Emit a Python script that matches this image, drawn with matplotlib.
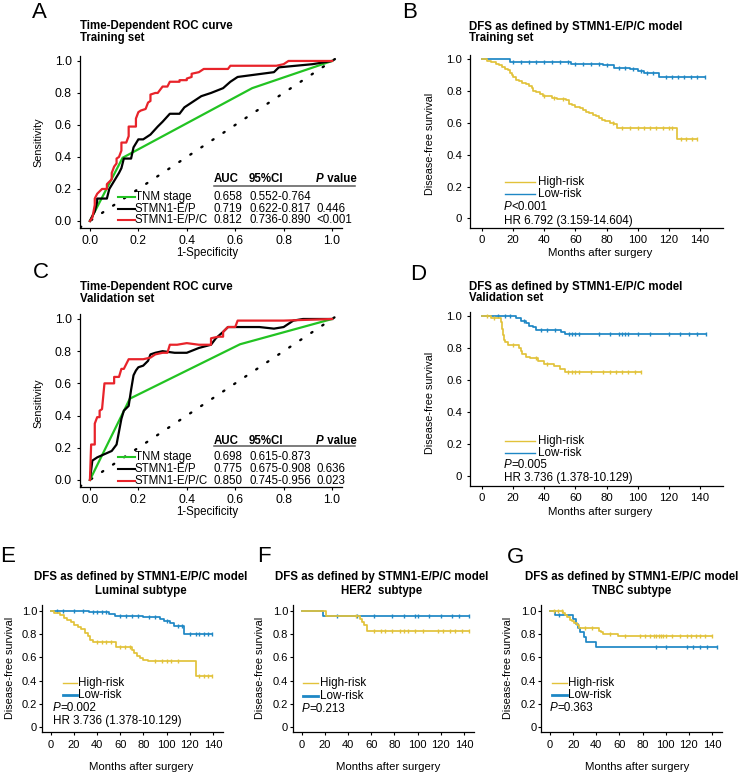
import matplotlib
matplotlib.use('Agg')
import matplotlib.pyplot as plt
import numpy as np
from matplotlib.lines import Line2D

# DATA
#####################
# ROC, training set (1-specificity, sensitivity)
tnm_tr_fpr = [0, 0.135, 0.67, 1.0]
tnm_tr_tpr = [0, 0.395, 0.83, 1.0]
ep_tr_fpr = [0, .02, .03, .03, .07, .08, .10, .12, .13, .14, .17, .18, .20, .22, .25, .28,
             .30, .33, .37, .39, .42, .46, .50, .55, .58, .61, .66, .76, .78, .85, .92, 1.0]
ep_tr_tpr = [0, .06, .12, .14, .14, .20, .25, .30, .33, .39, .39, .46, .51, .51, .54, .59,
             .62, .67, .67, .71, .74, .78, .80, .83, .87, .90, .91, .93, .96, .97, .98, 1.0]
epc_tr_fpr = [0, .01, .02, .02, .03, .03, .05, .07, .07, .09, .09, .10, .11, .11, .12, .13, .13,
              .15, .16, .16, .17, .19, .19, .20, .21, .23, .24, .25, .25, .27, .28, .29, .30, .32,
              .33, .34, .37, .37, .40, .40, .42, .42, .45, .47, .52, .57, .58, .65, .77, .80, .82, 1.0]
epc_tr_tpr = [0, .02, .10, .14, .17, .17, .20, .20, .23, .26, .30, .34, .36, .39, .40, .44, .49,
              .49, .53, .59, .59, .59, .64, .68, .69, .70, .74, .75, .79, .80, .80, .82, .84, .84,
              .87, .87, .87, .88, .88, .89, .90, .92, .93, .95, .95, .95, .97, .97, .97, .98, 1.0, 1.0]

# ROC, validation set
tnm_va_fpr = [0, 0.165, 0.62, 1.0]
tnm_va_tpr = [0, 0.505, 0.843, 1.0]
ep_va_fpr = [0, .01, .03, .06, .09, .10, .11, .12, .13, .14, .16, .17, .18, .19, .20, .22, .24,
             .25, .27, .30, .35, .40, .45, .50, .52, .55, .57, .62, .70, .76, .80, .84, .88, 1.0]
ep_va_tpr = [0, .12, .14, .16, .18, .20, .22, .30, .38, .43, .46, .56, .65, .68, .70, .71, .74,
             .78, .79, .80, .79, .79, .82, .84, .88, .92, .95, .95, .95, .94, .95, .99, 1.0, 1.0]
epc_va_fpr = [0, .005, .02, .02, .03, .04, .04, .05, .06, .10, .10, .12, .13, .14, .15, .16, .22,
              .25, .27, .30, .32, .33, .36, .40, .45, .50, .50, .53, .55, .55, .57, .60, .61, .80, 1.0]
epc_va_tpr = [0, .22, .22, .35, .39, .39, .43, .44, .60, .60, .64, .64, .69, .69, .72, .75, .75,
              .76, .78, .79, .79, .84, .84, .85, .84, .84, .88, .89, .89, .92, .95, .95, .99, .99, 1.0]

roc_names = ['TNM stage', 'STMN1-E/P', 'STMN1-E/P/C']
roc_tr_stats = [['0.658', '0.552-0.764', ''],
                ['0.719', '0.622-0.817', '0.446'],
                ['0.812', '0.736-0.890', '<0.001']]
roc_va_stats = [['0.698', '0.615-0.873', ''],
                ['0.775', '0.675-0.908', '0.636'],
                ['0.850', '0.745-0.956', '0.023']]

# Kaplan-Meier curves: event times, survival after each step, last follow-up, censor times
B_hi_t = [0, 3, 6, 9, 11, 13, 15, 17, 18, 19, 20, 22, 24, 26, 28, 30, 32, 33, 35, 37, 39, 42,
          45, 48, 54, 56, 58, 60, 63, 65, 67, 69, 71, 73, 75, 77, 79, 82, 85, 87, 125]
B_hi_s = [1.0, .99, .98, .97, .96, .95, .94, .93, .91, .90, .89, .87, .86, .85, .84, .83, .82,
          .80, .79, .78, .77, .765, .755, .75, .74, .72, .71, .70, .69, .68, .67, .66, .65, .64,
          .63, .62, .61, .60, .59, .57, .50]
B_hi_end = 138
B_hi_cens = [40, 46, 52, 84, 90, 95, 100, 104, 108, 112, 116, 120, 122, 128, 131, 135, 138]
B_lo_t = [0, 18, 57, 78, 85, 95, 100, 104, 108, 114]
B_lo_s = [1.0, .98, .97, .96, .945, .935, .925, .915, .91, .89]
B_lo_end = 143
B_lo_cens = [20, 25, 30, 35, 40, 45, 50, 55, 60, 65, 70, 75, 80, 88, 92, 97, 102, 106, 110,
             118, 122, 126, 130, 134, 138, 143]

D_hi_t = [0, 6, 12, 13, 13.5, 14, 15, 17, 24, 25, 26, 28, 31, 36, 40, 46, 50, 53]
D_hi_s = [1.0, .985, .96, .92, .88, .85, .84, .82, .80, .78, .76, .745, .74, .72, .70, .69, .67, .65]
D_hi_end = 102
D_hi_cens = [3, 8, 20, 35, 42, 55, 58, 60, 62, 70, 78, 82, 86, 90, 94, 98, 102]
D_lo_t = [0, 22, 25, 28, 30, 33, 35, 51, 53]
D_lo_s = [1.0, .985, .97, .955, .94, .93, .915, .90, .885]
D_lo_end = 144
D_lo_cens = [10, 15, 18, 27, 38, 42, 47, 56, 58, 60, 62, 75, 82, 88, 90, 92, 94, 100, 108,
             120, 127, 133, 138, 144]

E_hi_t = [0, 3, 8, 11, 14, 17, 20, 23, 26, 29, 32, 34, 36, 56, 70, 72, 74, 77, 80, 84, 125]
E_hi_s = [1.0, .98, .96, .94, .92, .90, .88, .86, .84, .81, .78, .75, .73, .69, .66, .64, .61,
          .59, .58, .565, .44]
E_hi_end = 139
E_hi_cens = [40, 44, 48, 52, 60, 64, 68, 90, 96, 100, 104, 110, 128, 132, 136, 139]
E_lo_t = [0, 33, 50, 55, 80, 94, 98, 103, 106, 115]
E_lo_s = [1.0, .99, .975, .955, .945, .93, .91, .895, .87, .80]
E_lo_end = 139
E_lo_cens = [5, 10, 20, 28, 36, 40, 44, 48, 60, 65, 70, 75, 85, 90, 100, 110, 113, 120, 125,
             128, 132, 136, 139]

F_hi_t = [0, 21, 50, 52, 54, 56]
F_hi_s = [1.0, .955, .93, .905, .88, .83]
F_hi_end = 144
F_hi_cens = [47, 62, 68, 72, 78, 85, 88, 92, 98, 105, 118, 122, 128, 132, 138, 144]
F_lo_t = [0, 18]
F_lo_s = [1.0, .955]
F_lo_end = 144
F_lo_cens = [30, 48, 62, 78, 88, 98, 100, 110, 120, 130, 136, 144]

G_hi_t = [0, 11, 13, 15, 17, 19, 21, 23, 25, 42, 44, 46, 59]
G_hi_s = [1.0, .985, .965, .945, .925, .91, .895, .875, .85, .83, .815, .80, .78]
G_hi_end = 140
G_hi_cens = [3, 7, 10, 30, 36, 52, 65, 78, 82, 86, 90, 92, 94, 96, 98, 100, 105, 112, 118,
             122, 126, 130, 134, 140]
G_lo_t = [0, 4, 20, 22, 24, 26, 29, 31, 40]
G_lo_s = [1.0, .965, .93, .885, .85, .82, .775, .735, .69]
G_lo_end = 144
G_lo_cens = [8, 92, 100, 118, 124, 130, 136, 144]

# STYLE
#####################
plt.rcParams['font.family'] = 'Liberation Sans'
plt.rcParams['axes.linewidth'] = 0.9

GREEN = '#22c322'
RED = '#e8232a'
YELLOW = '#e2c23a'
BLUE = '#1e87c5'

W, H = 750, 773
fig = plt.figure(figsize=(7.5, 7.73), dpi=100)


def add_ax(left, bottom, width, height):
    # pixel box (from top-left) -> figure fraction
    return fig.add_axes([left / W, 1 - bottom / H, width / W, height / H])


def ftext(x, y, s, **kw):
    fig.text(x / W, 1 - y / H, s, **kw)


def style_ax(ax, fs, ypad, xpad):
    ax.spines['top'].set_visible(False)
    ax.spines['right'].set_visible(False)
    ax.tick_params(axis='y', direction='out', length=2.2, width=0.8, labelsize=fs, pad=ypad)
    ax.tick_params(axis='x', direction='out', length=2.2, width=0.8, labelsize=fs, pad=xpad)


def ptext(ax, x, y, rest, fs, weight='normal'):
    # italic P followed by plain text
    t = ax.text(x, y, 'P', style='italic', fontsize=fs, weight=weight, va='center', ha='left')
    ax.annotate(rest, xy=(1, 0), xycoords=t, va='bottom', ha='left', fontsize=fs, weight=weight)


def roc_panel(ax, curves, stats, yhead, yline, yrows):
    ax.axline((0, 0), slope=1, color='k', lw=1.7, ls=(0, (0.6, 5.0)), dash_capstyle='round')
    for (fpr, tpr), c in zip(curves, [GREEN, 'k', RED]):
        ax.plot(fpr, tpr, color=c, lw=1.6)
    ax.set_xlim(-0.041, 1.041)
    ax.set_ylim(-0.044, 1.031)
    ax.set_xticks(np.arange(0, 1.01, 0.2))
    ax.set_yticks(np.arange(0, 1.01, 0.2))
    ax.set_xticklabels(['%.1f' % v for v in np.arange(0, 1.01, 0.2)])
    ax.set_yticklabels(['%.1f' % v for v in np.arange(0, 1.01, 0.2)])
    style_ax(ax, 8.8, 3.6, 2.9)
    fs = 8.3
    ax.text(0.512, yhead, 'AUC', fontsize=fs, weight='bold', va='center')
    ax.text(0.657, yhead, '95%CI', fontsize=fs, weight='bold', va='center')
    ptext(ax, 0.934, yhead, ' value', fs, weight='bold')
    ax.add_line(Line2D([0.512, 1.095], [yline, yline], color='0.35', lw=1.1, clip_on=False))
    for y, name, row, c in zip(yrows, roc_names, stats, [GREEN, 'k', RED]):
        ax.add_line(Line2D([0.116, 0.186], [y, y], color=c, lw=1.5, clip_on=False))
        ax.text(0.186, y, name, fontsize=fs, va='center')
        ax.text(0.512, y, row[0], fontsize=fs, va='center')
        ax.text(0.657, y, row[1], fontsize=fs, va='center')
        ax.text(0.934, y, row[2], fontsize=fs, va='center')


def km_curve(ax, t, s, end, cens, color):
    ax.step(list(t) + [end], list(s) + [s[-1]], where='post', color=color, lw=1.25)
    cy = np.array(s)[np.searchsorted(t, cens, side='right') - 1]
    ax.plot(cens, cy, ls='none', marker='|', ms=3.4, mew=1.0, color=color)


def km_panel(ax, hi, lo, xlim, ylim, tick_fs, ypad, xpad):
    km_curve(ax, *lo, BLUE)
    km_curve(ax, *hi, YELLOW)
    ax.set_xlim(*xlim)
    ax.set_ylim(*ylim)
    ax.set_xticks(np.arange(0, 141, 20))
    ax.set_yticks(np.arange(0, 1.01, 0.2))
    ax.set_yticklabels(['0', '0.2', '0.4', '0.6', '0.8', '1.0'])
    style_ax(ax, tick_fs, ypad, xpad)


def km_legend(ax, kx0, kx1, tx, px, ys, p_rest, hr, lo_lw, fs=8.4):
    ax.add_line(Line2D([kx0, kx1], [ys[0], ys[0]], color=YELLOW, lw=1.0, clip_on=False))
    ax.text(tx, ys[0], 'High-risk', fontsize=fs, va='center')
    ax.add_line(Line2D([kx0, kx1], [ys[1], ys[1]], color=BLUE, lw=lo_lw, clip_on=False))
    ax.text(tx, ys[1], 'Low-risk', fontsize=fs, va='center')
    ptext(ax, px, ys[2], p_rest, fs)
    if hr:
        ax.text(px, ys[3], hr, fontsize=fs, va='center')


# PANEL A
axA = add_ax(80, 228, 262, 172)
roc_panel(axA, [(tnm_tr_fpr, tnm_tr_tpr), (ep_tr_fpr, ep_tr_tpr), (epc_tr_fpr, epc_tr_tpr)],
          roc_tr_stats, 0.2625, 0.219, [0.15, 0.075, 0.006])

# PANEL C
axC = add_ax(80, 487, 262, 173)
roc_panel(axC, [(tnm_va_fpr, tnm_va_tpr), (ep_va_fpr, ep_va_tpr), (epc_va_fpr, epc_va_tpr)],
          roc_va_stats, 0.242, 0.211, [0.143, 0.068, -0.006])

# PANEL B
axB = add_ax(470, 228, 253, 173)
km_panel(axB, (B_hi_t, B_hi_s, B_hi_end, B_hi_cens), (B_lo_t, B_lo_s, B_lo_end, B_lo_cens),
         (-7.7, 154.8), (-0.06, 1.025), 8.2, 3.6, 2.9)
km_legend(axB, 14.8, 34, 36, 14.1, [0.226, 0.151, 0.069, -0.013], '<0.001',
          'HR 6.792 (3.159-14.604)', 1.0)

# PANEL D
axD = add_ax(470, 486, 253, 174)
km_panel(axD, (D_hi_t, D_hi_s, D_hi_end, D_hi_cens), (D_lo_t, D_lo_s, D_lo_end, D_lo_cens),
         (-7.7, 154.8), (-0.06, 1.025), 8.2, 3.6, 2.9)
km_legend(axD, 14.8, 34, 36, 14.1, [0.219, 0.144, 0.069, -0.0125], '=0.005',
          'HR 3.736 (1.378-10.129)', 1.0)

# PANELS E, F, G
xl3, yl3 = (-7.5, 149), (-0.043, 1.05)
axE = add_ax(42.3, 732, 181, 127)
km_panel(axE, (E_hi_t, E_hi_s, E_hi_end, E_hi_cens), (E_lo_t, E_lo_s, E_lo_end, E_lo_cens),
         xl3, yl3, 8.0, 1.5, 3.6)
km_legend(axE, 10.4, 22.5, 23.3, 1.7, [0.379, 0.276, 0.164, 0.052], '=0.002',
          'HR 3.736 (1.378-10.129)', 2.0)

axF = add_ax(293.3, 732, 181, 127)
km_panel(axF, (F_hi_t, F_hi_s, F_hi_end, F_hi_cens), (F_lo_t, F_lo_s, F_lo_end, F_lo_cens),
         xl3, yl3, 8.0, 1.5, 3.6)
km_legend(axF, 0.9, 13.7, 15.5, 0, [0.379, 0.267, 0.155], '=0.213', None, 2.0)

axG = add_ax(541.4, 732, 181, 127)
km_panel(axG, (G_hi_t, G_hi_s, G_hi_end, G_hi_cens), (G_lo_t, G_lo_s, G_lo_end, G_lo_cens),
         xl3, yl3, 8.0, 1.5, 3.6)
km_legend(axG, 1.7, 14.8, 15.7, 0, [0.379, 0.276, 0.164], '=0.363', None, 2.0)

# TEXT: panel letters, titles, axis labels
for x, y, s in [(32, 18, 'A'), (402, 18, 'B'), (33, 278, 'C'), (410, 280, 'D'),
                (0, 562, 'E'), (257, 562, 'F'), (507, 563, 'G')]:
    ftext(x, y, s, fontsize=16, va='baseline', ha='left')

tfs = 8.3
ftext(80, 29, 'Time-Dependent ROC curve', fontsize=tfs, weight='bold', va='baseline')
ftext(80, 41, 'Training set', fontsize=tfs, weight='bold', va='baseline')
ftext(80, 290, 'Time-Dependent ROC curve', fontsize=tfs, weight='bold', va='baseline')
ftext(80, 302, 'Validation set', fontsize=tfs, weight='bold', va='baseline')
ftext(469, 30, 'DFS as defined by STMN1-E/P/C model', fontsize=tfs, weight='bold', va='baseline')
ftext(469, 41, 'Training set', fontsize=tfs, weight='bold', va='baseline')
ftext(469, 290, 'DFS as defined by STMN1-E/P/C model', fontsize=tfs, weight='bold', va='baseline')
ftext(469, 301, 'Validation set', fontsize=tfs, weight='bold', va='baseline')
for cx, sub in [(141, 'Luminal subtype'), (382, 'HER2  subtype'), (632, 'TNBC subtype')]:
    ftext(cx, 580, 'DFS as defined by STMN1-E/P/C model', fontsize=tfs, weight='bold',
          va='baseline', ha='center')
    ftext(cx, 594, sub, fontsize=tfs, weight='bold', va='baseline', ha='center')

lfs = 7.8
ftext(38, 142, 'Sensitivity', fontsize=lfs, rotation=90, ha='center', va='center')
ftext(38, 403, 'Sensitivity', fontsize=lfs, rotation=90, ha='center', va='center')
ftext(207, 253, '1-Specificity', fontsize=8.3, ha='center', va='center')
ftext(207, 512, '1-Specificity', fontsize=8.3, ha='center', va='center')
for x, y in [(430, 144), (430, 403), (10, 668), (260, 668), (508, 668)]:
    ftext(x, y, 'Disease-free survival', fontsize=lfs, rotation=90, ha='center', va='center')
for x, y in [(600, 253), (600, 512), (141, 767), (388, 767), (637, 767)]:
    ftext(x, y, 'Months after surgery', fontsize=8.2, ha='center', va='center')

fig.savefig('out.png', dpi=100)
